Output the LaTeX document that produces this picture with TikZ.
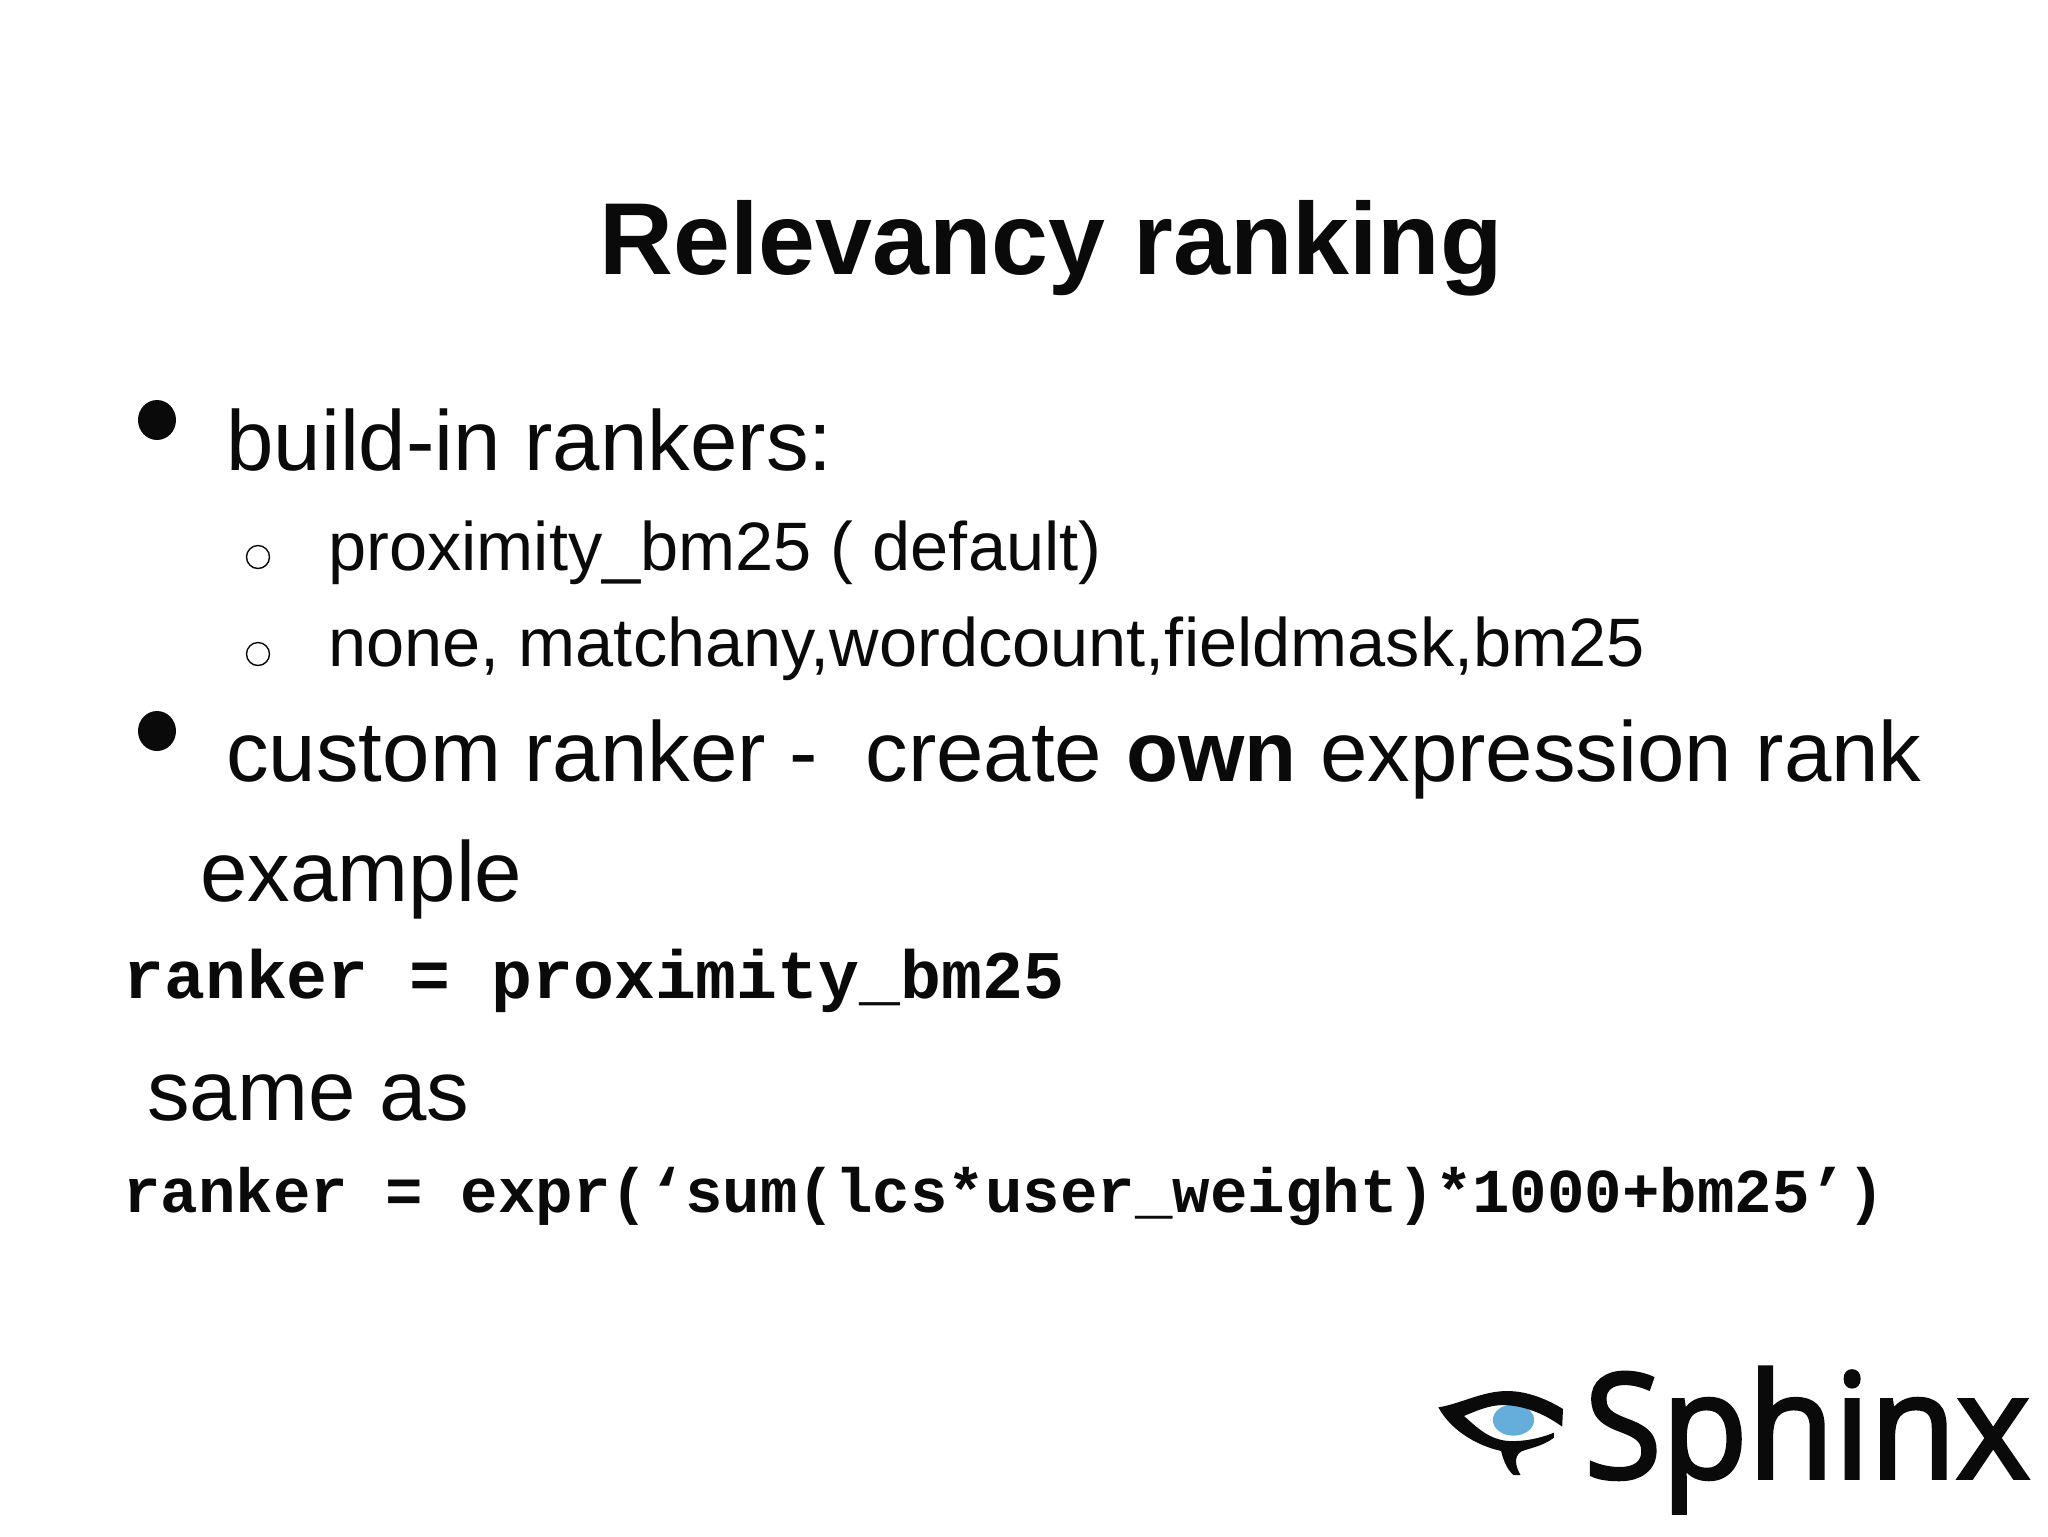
\documentclass[tikz,border=0pt]{standalone}
\usepackage{fontspec}
\setmainfont{Liberation Sans}
\setmonofont{Liberation Mono}
\newfontfamily\logofont[FakeBold=2.5]{Open Sans}
\definecolor{slideink}{HTML}{0A0A0A}
\definecolor{irisblue}{HTML}{65AEDB}
\tikzset{
	slidetext/.style={anchor=base west,inner sep=0pt,text=slideink},
	titletext/.style={slidetext,font=\fontsize{58.2}{60}\selectfont\bfseries},
	bodytext/.style={slidetext,font=\fontsize{48.5}{50}\selectfont},
	subtext/.style={slidetext,font=\fontsize{39}{42}\selectfont},
	codetext/.style={slidetext,font=\fontsize{38.8}{40}\selectfont\ttfamily\bfseries},
	codesmall/.style={slidetext,font=\fontsize{35.55}{38}\selectfont\ttfamily\bfseries},
	logotext/.style={slidetext,xscale=.965,font=\fontsize{83}{90}\selectfont\logofont},
	bigdot/.style={fill=slideink,draw=none},
	smalldot/.style={draw=slideink,line width=0.8pt}
}
\begin{document}
\begin{tikzpicture}[x=0.02cm,y=-0.02cm]
	\useasboundingbox (0,0) rectangle (2048,1536);
	% title
	\node[titletext] (title) at (599,274) {Relevancy ranking};
	% first bullet
	\fill[bigdot] (157,420) ellipse (19 and 20);
	\node[bodytext] (buildin) at (226,470) {build-in rankers:};
	\draw[smalldot] (258,557) circle (11.5);
	\node[subtext] (proximity) at (328,570) {proximity\_bm25 ( default)};
	\draw[smalldot] (258,654) circle (11.5);
	\node[subtext] (none) at (328,666) {none, matchany,wordcount,fieldmask,bm25};
	% second bullet
	\fill[bigdot] (157,731) ellipse (19 and 20);
	\node[bodytext] (custom) at (226,781) {custom ranker -\ \ create \textbf{own} expression rank};
	\node[bodytext] (example) at (200,901) {example};
	% code lines
	\node[codetext] (codeone) at (123,998) {ranker = proximity\_bm25};
	\node[bodytext] (sameas) at (147,1120) {same as};
	\node[codesmall] (codetwo) at (123,1212) {ranker = expr(‘sum(lcs*user\_weight)*1000+bm25’)};
	% logo
	\begin{scope}[shift={(1400,1340)},x=0.00826cm,y=-0.00667cm]
		\fill[irisblue] (275,240) ellipse (50 and 47);
		\fill[slideink] (93,202) .. controls (150,190) and (200,153) .. (260,153)
			.. controls (310,153) and (360,180) .. (395,207) -- (393,260)
			.. controls (360,230) and (310,197) .. (250,195)
			.. controls (215,195) and (180,215) .. (155,228)
			.. controls (185,260) and (215,300) .. (265,303)
			.. controls (300,305) and (340,295) .. (373,278) -- (373,293)
			.. controls (345,320) and (310,325) .. (293,335)
			.. controls (275,350) and (280,380) .. (292,405) -- (275,405)
			.. controls (260,390) and (250,360) .. (245,333)
			.. controls (180,315) and (120,265) .. (93,202) -- cycle;
	\end{scope}
	\node[logotext] (sphinx) at (1584,1478) {Sphinx};
\end{tikzpicture}
\end{document}
